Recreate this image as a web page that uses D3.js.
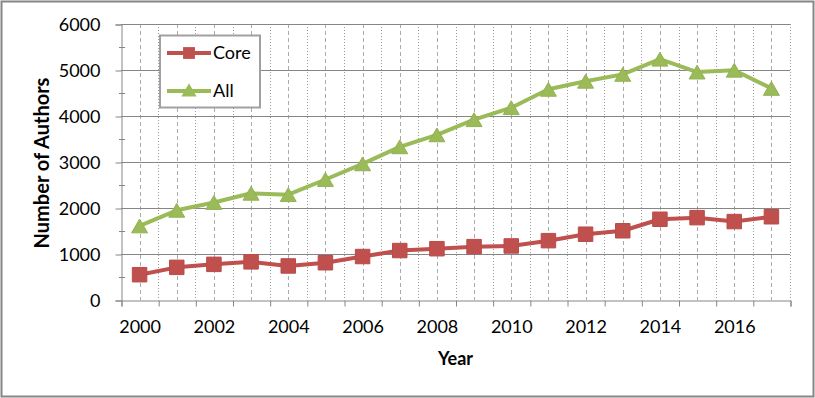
<!DOCTYPE html>
<html>
<head>
<meta charset="utf-8">
<script src="https://cdn.jsdelivr.net/npm/d3@7"></script>
<style>
  body { margin: 0; background: #fff; }
  svg { display: block; font-family: Lato, 'Open Sans', sans-serif; }
</style>
</head>
<body>
<svg></svg>
<script>
const years = [2000, 2001, 2002, 2003, 2004, 2005, 2006, 2007, 2008,
  2009, 2010, 2011, 2012, 2013, 2014, 2015, 2016, 2017];
const coreAuthors = [550, 710, 775, 830, 740, 810, 945, 1075, 1115,
  1160, 1175, 1290, 1430, 1505, 1755, 1790, 1705, 1810];
const allAuthors = [1610, 1950, 2120, 2320, 2290, 2620, 2960, 3330, 3590,
  3920, 4180, 4580, 4755, 4905, 5235, 4955, 4995, 4600];
const yTicks = [0, 1000, 2000, 3000, 4000, 5000, 6000];
const xLabels = [2000, 2002, 2004, 2006, 2008, 2010, 2012, 2014, 2016];

const width = 815;
const height = 398;
const plotLeft = 121;
const plotRight = 790;
const plotTop = 24;
const plotBottom = 300;

const red = '#C0504D';
const green = '#9BBB59';
const grid = '#868686';

const svg = d3.select('svg').attr('width', width).attr('height', height);

// outer frame
svg.append('rect')
  .attr('x', 1.5).attr('y', 1.5)
  .attr('width', width - 3).attr('height', height - 3)
  .attr('fill', '#fff').attr('stroke', '#868686').attr('stroke-width', 2);

const xScale = d3.scaleLinear()
  .domain([years[0] - 0.5, years[years.length - 1] + 0.5])
  .range([plotLeft, plotRight]);

const yScale = d3.scaleLinear().domain([0, 6000]).range([plotBottom, plotTop]);

// vertical grid: dotted at category edges, dashed at category centres
const edges = d3.range(years[0] + 0.5, years[years.length - 1] + 1, 1);
svg.append('g').selectAll('line')
  .data(edges).enter().append('line')
  .attr('x1', (d) => Math.round(xScale(d)) + 0.5)
  .attr('x2', (d) => Math.round(xScale(d)) + 0.5)
  .attr('y1', plotTop).attr('y2', plotBottom)
  .attr('stroke', '#999').attr('stroke-dasharray', '1,2');

svg.append('g').selectAll('line')
  .data(years).enter().append('line')
  .attr('x1', (d) => Math.round(xScale(d)) + 0.5)
  .attr('x2', (d) => Math.round(xScale(d)) + 0.5)
  .attr('y1', plotTop).attr('y2', plotBottom)
  .attr('stroke', '#aaa').attr('stroke-dasharray', '4,3');

// horizontal grid
svg.append('g').selectAll('line')
  .data(yTicks.slice(1)).enter().append('line')
  .attr('x1', plotLeft).attr('x2', plotRight)
  .attr('y1', (d) => Math.round(yScale(d)) + 0.5)
  .attr('y2', (d) => Math.round(yScale(d)) + 0.5)
  .attr('stroke', grid);

// y axis
const yAxis = d3.axisLeft(yScale).tickValues(yTicks)
  .tickFormat(d3.format('d')).tickSize(6).tickPadding(15);
const yG = svg.append('g')
  .attr('transform', 'translate(' + (plotLeft + 0.5) + ',0.5)')
  .call(yAxis);
yG.selectAll('.tick text').attr('font-size', 18).attr('fill', '#000')
  .attr('font-family', 'Lato, sans-serif');
svg.append('g').selectAll('line')
  .data(d3.range(500, 6000, 1000)).enter().append('line')
  .attr('x1', plotLeft - 2).attr('x2', plotLeft + 4)
  .attr('y1', (d) => Math.round(yScale(d)) + 0.5)
  .attr('y2', (d) => Math.round(yScale(d)) + 0.5)
  .attr('stroke', grid);

// x axis: ticks at category edges, labels every second year
const xTicks = d3.axisBottom(xScale)
  .tickValues(d3.range(years[0] - 0.5, years[years.length - 1] + 1, 1))
  .tickFormat('').tickSize(6);
svg.append('g')
  .attr('transform', 'translate(0.5,' + (plotBottom + 0.5) + ')')
  .call(xTicks);

const xAxis = d3.axisBottom(xScale).tickValues(xLabels)
  .tickFormat(d3.format('d')).tickSize(0).tickPadding(20);
const xG = svg.append('g')
  .attr('transform', 'translate(0,' + plotBottom + ')')
  .call(xAxis);
xG.select('.domain').remove();
xG.selectAll('.tick text').attr('font-size', 18).attr('fill', '#000')
  .attr('font-family', 'Lato, sans-serif');

svg.selectAll('.domain, .tick line').attr('stroke', grid);

// axis titles
svg.append('text')
  .attr('x', (plotLeft + plotRight) / 2).attr('y', 365)
  .attr('text-anchor', 'middle')
  .attr('font-size', 18).attr('font-weight', 'bold')
  .text('Year');

svg.append('text')
  .attr('transform', 'translate(49,' + 163 + ') rotate(-90)')
  .attr('text-anchor', 'middle')
  .attr('font-size', 20).attr('font-weight', 'bold')
  .text('Number of Authors');

// series
const line = d3.line()
  .x((d, i) => xScale(years[i]))
  .y((d) => yScale(d));

svg.append('path').datum(allAuthors)
  .attr('d', line).attr('fill', 'none')
  .attr('stroke', green).attr('stroke-width', 4).attr('stroke-linejoin', 'round');

svg.append('path').datum(coreAuthors)
  .attr('d', line).attr('fill', 'none')
  .attr('stroke', red).attr('stroke-width', 4).attr('stroke-linejoin', 'round');

// d3 triangles sit on their centroid; nudge down so the box centre is on the value
const triSize = 110;
const triShift = Math.sqrt(triSize * Math.sqrt(3)) / 6;
const tri = d3.symbol().type(d3.symbolTriangle).size(triSize);
const sq = d3.symbol().type(d3.symbolSquare).size(210);

svg.append('g').selectAll('path')
  .data(allAuthors).enter().append('path')
  .attr('d', tri)
  .attr('transform', (d, i) => 'translate(' + xScale(years[i]) + ',' + (yScale(d) + triShift) + ')')
  .attr('fill', green).attr('stroke', '#93b152').attr('stroke-width', 1);

svg.append('g').selectAll('path')
  .data(coreAuthors).enter().append('path')
  .attr('d', sq)
  .attr('transform', (d, i) => 'translate(' + xScale(years[i]) + ',' + yScale(d) + ')')
  .attr('fill', red).attr('stroke', '#b84c49').attr('stroke-width', 1);

// legend
const legend = svg.append('g');
legend.append('rect')
  .attr('x', 160).attr('y', 35.5).attr('width', 100).attr('height', 72)
  .attr('fill', '#fff').attr('stroke', '#a0a0a0').attr('stroke-width', 2);

const legendItems = [
  { name: 'Core', color: red, type: d3.symbolSquare, size: 140, dy: 0, y: 53 },
  { name: 'All', color: green, type: d3.symbolTriangle, size: 100, dy: 1, y: 91 },
];
legendItems.forEach((item) => {
  legend.append('line')
    .attr('x1', 167).attr('x2', 211)
    .attr('y1', item.y).attr('y2', item.y)
    .attr('stroke', item.color).attr('stroke-width', 4);
  legend.append('path')
    .attr('d', d3.symbol().type(item.type).size(item.size))
    .attr('transform', 'translate(189,' + (item.y + item.dy) + ')')
    .attr('fill', item.color);
  legend.append('text')
    .attr('x', 213).attr('y', item.y + 6)
    .attr('font-size', 18)
    .text(item.name);
});
</script>
</body>
</html>
